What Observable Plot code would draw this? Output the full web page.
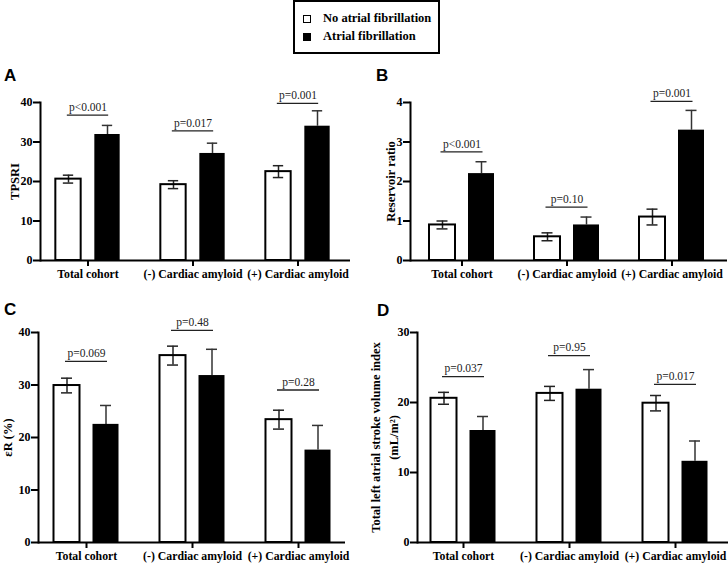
<!DOCTYPE html>
<html>
<head>
<meta charset="utf-8">
<script src="https://cdn.jsdelivr.net/npm/d3@7"></script>
<script src="https://cdn.jsdelivr.net/npm/@observablehq/plot@0.6"></script>
<style>
  html, body { margin: 0; padding: 0; background: #fff; }
  #root { position: relative; width: 728px; height: 564px; overflow: hidden; background: #fff; }
  .panel { position: absolute; }
  .panel svg { overflow: visible; }
  .letter { position: absolute; font-family: 'Liberation Sans', Arial, sans-serif; font-weight: bold; font-size: 17px; line-height: 1; }
  #legend { position: absolute; left: 293px; top: 0px; width: 143px; height: 50px; border: 2px solid #000;
            font-family: 'Liberation Serif', 'Times New Roman', serif; font-weight: bold; font-size: 12.5px; }
  .li { position: absolute; left: 8px; display: flex; align-items: center; white-space: nowrap; }
  .sw { width: 6px; height: 6px; border: 1.2px solid #000; margin-right: 12px; box-sizing: content-box; }
</style>
</head>
<body>
<div id="root">
  <div id="legend">
    <div class="li" style="top:9px"><span class="sw" style="background:#fff"></span>No atrial fibrillation</div>
    <div class="li" style="top:27px"><span class="sw" style="background:#000"></span>Atrial fibrillation</div>
  </div>
  <div class="letter" style="left:4px; top:67px">A</div>
  <div class="letter" style="left:376px; top:67px">B</div>
  <div class="letter" style="left:4px; top:301px">C</div>
  <div class="letter" style="left:377px; top:302px">D</div>
</div>
<script>
// ---- data ----
const categories = ["Total cohort", "(-) Cardiac amyloid", "(+) Cardiac amyloid"];
const groups = ["No atrial fibrillation", "Atrial fibrillation"];

// Panel A: TPSRI
const tpsriNoAF = [20.6, 19.2, 22.5];
const tpsriNoAFErr = [1.0, 1.0, 1.5];
const tpsriAF = [31.9, 27.1, 34.0];
const tpsriAFErr = [2.3, 2.6, 3.9];
const tpsriP = ["p<0.001", "p=0.017", "p=0.001"];
const tpsriPY = [36.8, 32.8, 39.8];
const tpsriTicks = [0, 10, 20, 30, 40];

// Panel B: Reservoir ratio
const rrNoAF = [0.9, 0.6, 1.1];
const rrNoAFErr = [0.1, 0.1, 0.2];
const rrAF = [2.2, 0.9, 3.3];
const rrAFErr = [0.3, 0.2, 0.5];
const rrP = ["p<0.001", "p=0.10", "p=0.001"];
const rrPY = [2.75, 1.35, 4.03];
const rrTicks = [0, 1, 2, 3, 4];

// Panel C: εR (%)
const erNoAF = [29.9, 35.6, 23.4];
const erNoAFErr = [1.4, 1.8, 1.8];
const erAF = [22.5, 31.8, 17.6];
const erAFErr = [3.6, 5.0, 4.7];
const erP = ["p=0.069", "p=0.48", "p=0.28"];
const erPY = [34.5, 40.4, 29.05];
const erTicks = [0, 10, 20, 30, 40];

// Panel D: Total left atrial stroke volume index
const svNoAF = [20.6, 21.3, 19.9];
const svNoAFErr = [0.85, 1.0, 1.1];
const svAF = [16.0, 21.9, 11.6];
const svAFErr = [2.0, 2.8, 2.9];
const svP = ["p=0.037", "p=0.95", "p=0.017"];
const svPY = [23.7, 26.7, 22.6];
const svTicks = [0, 10, 20, 30];

// ---- drawing ----
const SERIF = "'Liberation Serif', 'Times New Roman', serif";

function panel(cfg) {
  const {noAF, noAFErr, af, afErr, pLabels, pY, ticks, title, yMax,
         left, top, width, height, mL, mR, mT, mB, xRange, titleDx} = cfg;
  const B = (xRange[1] - xRange[0]) / categories.length;
  const barW = 26, off = 19.5, capW = 11, brW = 42;
  const barIn = (B - barW) / 2, capIn = (B - capW) / 2, brIn = (B - brW) / 2;
  const rowsNo = categories.map((c, i) => ({cat: c, group: groups[0], value: noAF[i], err: noAFErr[i]}));
  const rowsAF = categories.map((c, i) => ({cat: c, group: groups[1], value: af[i], err: afErr[i]}));
  const pv = categories.map((c, i) => ({cat: c, label: pLabels[i], y: pY[i]}));

  const p = Plot.plot({
    width, height, marginLeft: mL, marginRight: mR, marginTop: mT, marginBottom: mB,
    style: `font-family: ${SERIF}; font-size: 12px; font-weight: bold; background: transparent; overflow: visible;`,
    x: {type: "band", domain: categories, range: xRange, padding: 0},
    y: {domain: [0, yMax], range: [height - mB, mT]},
    marks: [
      // error bars (white bars: both directions)
      Plot.ruleX(rowsNo, {x: "cat", y1: d => d.value - d.err, y2: d => d.value + d.err, dx: -off, stroke: "#222", strokeWidth: 1.5}),
      Plot.tickY(rowsNo, {x: "cat", y: d => d.value + d.err, dx: -off, insetLeft: capIn, insetRight: capIn, stroke: "#222", strokeWidth: 1.5}),
      Plot.tickY(rowsNo, {x: "cat", y: d => d.value - d.err, dx: -off, insetLeft: capIn, insetRight: capIn, stroke: "#222", strokeWidth: 1.5}),
      Plot.ruleX(rowsAF, {x: "cat", y1: "value", y2: d => d.value + d.err, dx: off, stroke: "#333", strokeWidth: 1.5}),
      Plot.tickY(rowsAF, {x: "cat", y: d => d.value + d.err, dx: off, insetLeft: capIn, insetRight: capIn, stroke: "#333", strokeWidth: 1.5}),
      // bars
      Plot.barY(rowsNo, {x: "cat", y: "value", dx: -off, insetLeft: barIn, insetRight: barIn, fill: "none", stroke: "#000", strokeWidth: 2}),
      Plot.barY(rowsAF, {x: "cat", y: "value", dx: off, insetLeft: barIn, insetRight: barIn, fill: "#000"}),
      // significance brackets
      Plot.tickY(pv, {x: "cat", y: "y", insetLeft: brIn, insetRight: brIn, stroke: "#222", strokeWidth: 1.3}),
      Plot.text(pv, {x: "cat", y: "y", text: "label", dy: -8, fontFamily: SERIF, fontWeight: "normal", fontSize: 11.5, fill: "#222"}),
      // axes
      Plot.axisY({ticks, tickFormat: d => String(d), tickSize: 7, tickPadding: 1, label: null, strokeWidth: 2,
                  fontSize: 12, fontFamily: SERIF, fontWeight: "bold"}),
      Plot.axisX({tickSize: 6, tickPadding: 3, label: null, strokeWidth: 2,
                  fontSize: 11.8, fontFamily: SERIF, fontWeight: "bold"}),
      Plot.ruleY([0], {strokeWidth: 2}),
      Plot.frame({anchor: "left", strokeWidth: 2}),
      Plot.text([title], {frameAnchor: "left", text: d => d, rotate: -90, dx: titleDx, textAnchor: "middle", lineAnchor: "middle",
                          fontFamily: SERIF, fontWeight: "bold", fontSize: 12.5, lineHeight: 1.45})
    ]
  });
  const div = document.createElement("div");
  div.className = "panel";
  div.style.left = left + "px";
  div.style.top = top + "px";
  div.appendChild(p);
  document.getElementById("root").appendChild(div);
}

panel({noAF: tpsriNoAF, noAFErr: tpsriNoAFErr, af: tpsriAF, afErr: tpsriAFErr, pLabels: tpsriP, pY: tpsriPY,
       ticks: tpsriTicks, yMax: 40, title: "TPSRI",
       left: 0, top: 90, width: 364, height: 200, mL: 40, mR: 14, mT: 12, mB: 30, xRange: [34, 351], titleDx: -27});
panel({noAF: rrNoAF, noAFErr: rrNoAFErr, af: rrAF, afErr: rrAFErr, pLabels: rrP, pY: rrPY,
       ticks: rrTicks, yMax: 4, title: "Reservoir ratio",
       left: 364, top: 90, width: 364, height: 200, mL: 46, mR: 1, mT: 12, mB: 30, xRange: [45, 360], titleDx: -21});
panel({noAF: erNoAF, noAFErr: erNoAFErr, af: erAF, afErr: erAFErr, pLabels: erP, pY: erPY,
       ticks: erTicks, yMax: 40, title: "εR (%)",
       left: 0, top: 300, width: 364, height: 264, mL: 38, mR: 19, mT: 32, mB: 22, xRange: [33, 351], titleDx: -32});
panel({noAF: svNoAF, noAFErr: svNoAFErr, af: svAF, afErr: svAFErr, pLabels: svP, pY: svPY,
       ticks: svTicks, yMax: 30, title: "Total left atrial stroke volume index\n(mL/m²)",
       left: 364, top: 300, width: 364, height: 264, mL: 53, mR: 0, mT: 32, mB: 22, xRange: [46, 364], titleDx: -34});
</script>
</body>
</html>
